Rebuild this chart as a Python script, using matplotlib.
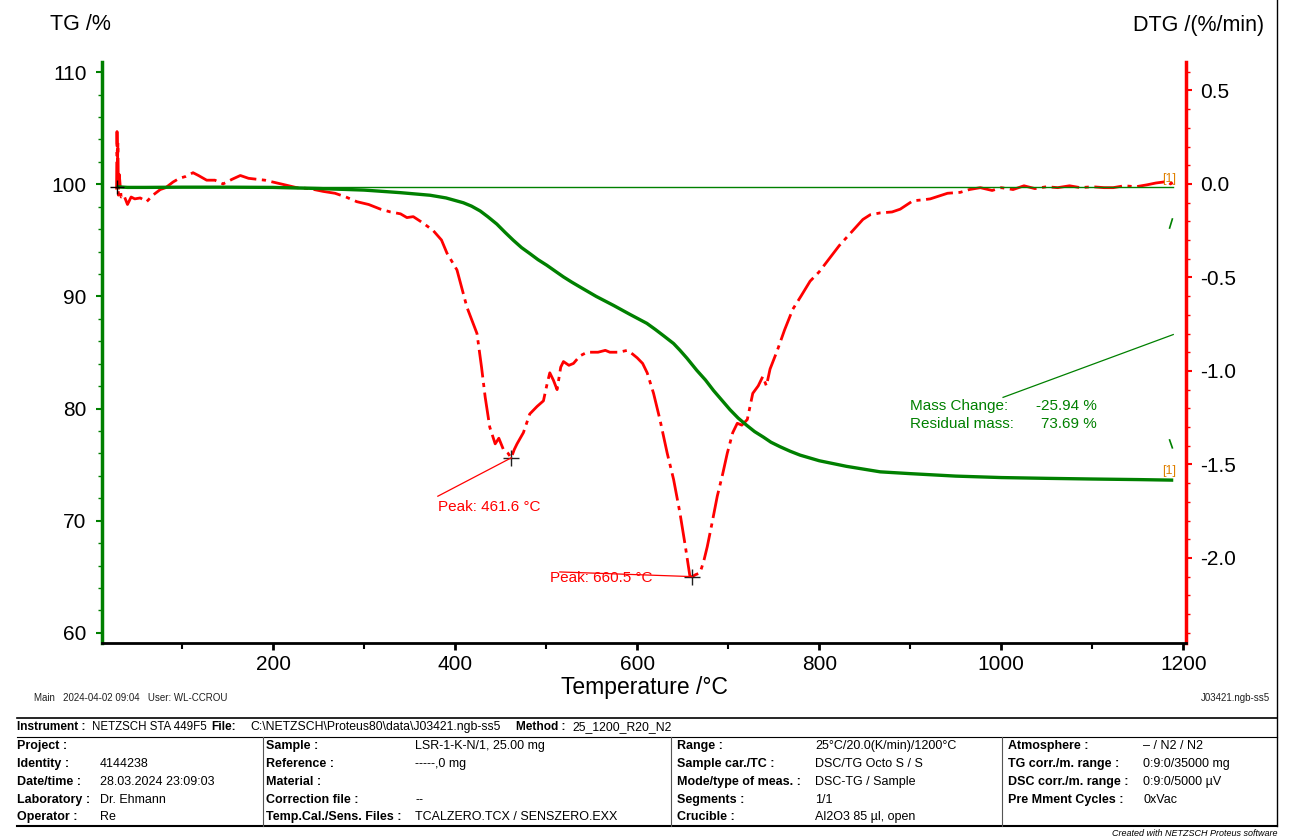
import matplotlib
matplotlib.use("Agg")
import matplotlib.pyplot as plt
from matplotlib.lines import Line2D
from matplotlib.ticker import MultipleLocator

plt.rcParams['font.family'] = ['Liberation Sans', 'DejaVu Sans']

# ---------------- data ----------------
tg_temp = [28, 40, 60, 100, 150, 200, 250, 300, 317.6, 340, 372.5, 390, 409, 418, 427.5,
           436, 445.8, 455, 464, 473, 482.4, 491, 500.7, 510, 519, 528, 537, 555, 574,
           592, 610.6, 620, 628.9, 640, 647, 654.6, 665.6, 675, 684, 693, 702, 711,
           720.5, 729, 738.8, 747, 757, 768, 779, 800, 830, 867, 900,
           950, 1000, 1050, 1100, 1150, 1189]
tg_mass = [99.78, 99.72, 99.72, 99.74, 99.74, 99.72, 99.62, 99.48, 99.38, 99.25, 99.02,
           98.78, 98.35, 98.05, 97.62, 97.1, 96.45, 95.7, 95.0, 94.35, 93.8, 93.28,
           92.78, 92.25, 91.74, 91.28, 90.85, 90.0, 89.2, 88.4, 87.6, 87.05, 86.5,
           85.8, 85.2, 84.5, 83.4, 82.55, 81.6, 80.75, 79.9, 79.15, 78.5, 77.95, 77.45,
           77.0, 76.6, 76.2, 75.85, 75.35, 74.85, 74.36, 74.2, 73.98, 73.85, 73.78,
           73.72, 73.67, 73.62]

dtg_temp = [28, 28.5, 29, 29.5, 30, 31, 33, 36, 40, 44, 48, 54, 61, 68, 76, 82, 90, 97,
            104, 112, 118, 127, 136, 145, 155, 164, 173, 182, 191, 200, 213, 226, 240,
            255, 268, 280, 292, 305, 318, 329, 340, 347, 354, 365, 376, 385, 391, 402,
            413, 420, 424, 429, 433, 438, 444, 448, 453, 458, 461.6, 465, 468, 475,
            482, 490, 497, 501, 504, 508, 512, 516, 519, 525, 530, 537, 545, 557, 565,
            570, 580, 589, 595, 600, 606, 611, 618, 625, 633, 640, 647, 653, 658,
            660.5, 664, 669, 673, 677, 682, 688, 694, 699, 705, 710, 715, 721, 727,
            733, 738, 742, 746, 754, 762, 771, 780, 790, 800, 811, 822, 835, 848, 856,
            867, 880, 889, 903, 914, 922, 941, 955, 965, 977, 990, 1000, 1013, 1025,
            1037, 1050, 1062, 1075, 1087, 1100, 1113, 1123, 1135, 1148, 1160, 1170,
            1178, 1182, 1186, 1189]
dtg_rate = [-0.03, 0.28, 0.10, 0.22, -0.06, 0.05, -0.07, -0.06, -0.11, -0.07, -0.08,
            -0.075, -0.095, -0.06, -0.03, -0.02, 0.01, 0.03, 0.04, 0.06, 0.045, 0.02,
            0.02, 0.0, 0.025, 0.045, 0.03, 0.025, 0.02, 0.01, -0.005, -0.02, -0.025,
            -0.04, -0.05, -0.07, -0.095, -0.11, -0.135, -0.15, -0.16, -0.18, -0.175,
            -0.21, -0.25, -0.30, -0.37, -0.46, -0.66, -0.75, -0.80, -0.98, -1.14,
            -1.30, -1.39, -1.36, -1.42, -1.44, -1.465, -1.42, -1.39, -1.33, -1.23,
            -1.19, -1.16, -1.07, -1.01, -1.05, -1.10, -0.98, -0.95, -0.97, -0.96,
            -0.92, -0.90, -0.90, -0.89, -0.90, -0.90, -0.89, -0.91, -0.93, -0.96,
            -1.01, -1.12, -1.26, -1.44, -1.58, -1.76, -1.94, -2.10, -2.10, -2.09,
            -2.08, -2.02, -1.94, -1.82, -1.67, -1.55, -1.44, -1.33, -1.28, -1.29,
            -1.26, -1.12, -1.08, -1.03, -1.08, -0.99, -0.89, -0.78, -0.67, -0.60,
            -0.52, -0.47, -0.40, -0.33, -0.26, -0.19, -0.165, -0.155, -0.15, -0.135,
            -0.09, -0.085, -0.08, -0.05, -0.045, -0.03, -0.02, -0.035, -0.02, -0.03,
            -0.01, -0.025, -0.015, -0.02, -0.01, -0.02, -0.015, -0.02, -0.02, -0.01,
            -0.015, -0.005, 0.005, 0.01, 0.015, 0.0, 0.01]

peak_temps = [461.6, 660.5]
peak_rates = [-1.465, -2.10]
peak_labels = ["Peak: 461.6 °C", "Peak: 660.5 °C"]
mass_change = -25.94
residual_mass = 73.69
ref_level = 99.72

x_ticks = [200, 400, 600, 800, 1000, 1200]
tg_ticks = [60, 70, 80, 90, 100, 110]
dtg_ticks = [0.5, 0.0, -0.5, -1.0, -1.5, -2.0]

# ---------------- figure ----------------
W, H = 1291, 839
fig = plt.figure(figsize=(W / 100, H / 100), dpi=100)


def fx(px):
    return px / W


def fy(py):
    return 1 - py / H


GREEN = '#008000'
RED = '#FF0000'

ax = fig.add_axes([fx(102), fy(643), fx(1186) - fx(102), fy(62) - fy(643)])
ax2 = ax.twinx()

ax.set_xlim(12, 1203)
ax.set_ylim(59.1, 110.9)
ax2.set_ylim(-2.455, 0.652)

ax2.set_zorder(1)
ax.set_zorder(2)
ax.patch.set_visible(False)

# TG curve
ax.plot(tg_temp, tg_mass, color=GREEN, lw=2.4, solid_capstyle='butt', solid_joinstyle='round')
ax.plot([tg_temp[0], tg_temp[-1]], [ref_level, ref_level], color=GREEN, lw=1.0)
ax.plot([tg_temp[0]], [ref_level], marker='+', color='black', ms=10, mew=1)

# DTG curve
ax2.plot(dtg_temp, dtg_rate, color=RED, lw=2.0, linestyle=(0, (10, 2, 1.5, 2)))
ax2.plot(peak_temps, peak_rates, linestyle='none', marker='+', color='#202020', ms=11, mew=1)

# peak annotations
ax2.plot([peak_temps[0], 381], [peak_rates[0], -1.67], color=RED, lw=0.9)
ax2.text(438, -1.73, peak_labels[0], color=RED, fontsize=11, ha='center', va='center')
ax2.plot([peak_temps[1], 515], [peak_rates[1], -2.075], color=RED, lw=0.9)
ax2.text(561, -2.11, peak_labels[1], color=RED, fontsize=11, ha='center', va='center')

# mass change annotation
ax.plot([1002, 1189], [81.0, 86.6], color=GREEN, lw=0.9)
ax.text(900, 80.2, "Mass Change:", color=GREEN, fontsize=11, ha='left', va='center')
ax.text(1105, 80.2, f"{mass_change:.2f} %", color=GREEN, fontsize=11, ha='right', va='center')
ax.text(900, 78.6, "Residual mass:", color=GREEN, fontsize=11, ha='left', va='center')
ax.text(1105, 78.6, f"{residual_mass:.2f} %", color=GREEN, fontsize=11, ha='right', va='center')
ax.plot([1185, 1188], [96.1, 96.9], color=GREEN, lw=1.2)
ax.plot([1185, 1188], [77.2, 76.5], color=GREEN, lw=1.2)
ax.text(1185, 100.5, "[1]", color='#E08000', fontsize=9, ha='center', va='center')
ax.text(1185, 74.4, "[1]", color='#E08000', fontsize=9, ha='center', va='center')

# spines
for a in (ax, ax2):
    a.spines['top'].set_visible(False)
ax.spines['right'].set_visible(False)
ax2.spines['left'].set_visible(False)
ax2.spines['bottom'].set_visible(False)
ax.spines['left'].set_color(GREEN)
ax.spines['left'].set_linewidth(2.5)
ax2.spines['right'].set_color(RED)
ax2.spines['right'].set_linewidth(2.5)
ax.spines['bottom'].set_color('black')
ax.spines['bottom'].set_linewidth(2.0)

# ticks
ax.set_xticks(x_ticks)
ax.xaxis.set_minor_locator(MultipleLocator(100))
ax.set_yticks(tg_ticks)
ax.yaxis.set_minor_locator(MultipleLocator(2))
ax2.set_yticks(dtg_ticks)
ax2.set_yticklabels([f"{v:.1f}" for v in dtg_ticks])
ax2.yaxis.set_minor_locator(MultipleLocator(0.1))

ax.tick_params(axis='x', which='major', direction='out', length=5, width=2, color='black',
               labelsize=15, pad=4)
ax.tick_params(axis='x', which='minor', direction='out', length=4, width=1.5, color='black')
ax.tick_params(axis='y', which='major', direction='out', length=4, width=1.5, color=GREEN,
               labelsize=15, pad=7)
ax.tick_params(axis='y', which='minor', direction='out', length=3, width=1, color=GREEN)
ax2.tick_params(axis='y', which='major', direction='out', length=4, width=1.5, color=RED,
                labelsize=15, pad=6)
ax2.tick_params(axis='y', which='minor', direction='out', length=3, width=1, color=RED)

ax.set_xlabel("Temperature /°C", fontsize=16.5, labelpad=1)

# axis titles
fig.text(fx(50), fy(25), "TG /%", fontsize=15.5, ha='left', va='center')
fig.text(fx(1264), fy(25), "DTG /(%/min)", fontsize=15.5, ha='right', va='center')

# footer line above table
fig.text(fx(34), fy(698), "Main   2024-04-02 09:04   User: WL-CCROU", fontsize=7, color='#202020',
         va='center')
fig.text(fx(1270), fy(698), "J03421.ngb-ss5", fontsize=7, color='#202020', ha='right', va='center')

# page border at right
fig.add_artist(Line2D([fx(1277), fx(1277)], [fy(0), fy(826)], color='black', lw=1.0))

# table lines
for yy, lw in ((718, 1.2), (737, 0.8), (826, 1.5)):
    fig.add_artist(Line2D([fx(17), fx(1277)], [fy(yy), fy(yy)], color='black', lw=lw))
for xx in (263, 671, 1002):
    fig.add_artist(Line2D([fx(xx), fx(xx)], [fy(737), fy(826)], color='#555555', lw=0.8))

TFS = 9
row1 = [(17, "Instrument :", True, 8.6), (92, "NETZSCH STA 449F5", False, 8.3),
        (211, "File:", True, 8.6),
        (250, "C:\\NETZSCH\\Proteus80\\data\\J03421.ngb-ss5", False, 8.8),
        (516, "Method :", True, 8.6), (572, "25_1200_R20_N2", False, 8.8)]
for xx, s, b, fs in row1:
    fig.text(fx(xx), fy(727), s, fontsize=fs, fontweight='bold' if b else 'normal', va='center')

rows_y = [746, 764, 782, 800, 817]
col_labels = [
    (17, ["Project :", "Identity :", "Date/time :", "Laboratory :", "Operator :"]),
    (266, ["Sample :", "Reference :", "Material :", "Correction file :", "Temp.Cal./Sens. Files :"]),
    (677, ["Range :", "Sample car./TC :", "Mode/type of meas. :", "Segments :", "Crucible :"]),
    (1008, ["Atmosphere :", "TG corr./m. range :", "DSC corr./m. range :", "Pre Mment Cycles :", ""]),
]
col_values = [
    (100, ["", "4144238", "28.03.2024 23:09:03", "Dr. Ehmann", "Re"]),
    (415, ["LSR-1-K-N/1, 25.00 mg", "-----,0 mg", "", "--", "TCALZERO.TCX / SENSZERO.EXX"]),
    (815, ["25°C/20.0(K/min)/1200°C", "DSC/TG Octo S / S", "DSC-TG / Sample", "1/1",
           "Al2O3 85 µl, open"]),
    (1143, ["– / N2 / N2", "0:9:0/35000 mg", "0:9:0/5000 µV", "0xVac", ""]),
]
for xx, labels in col_labels:
    for yy, s in zip(rows_y, labels):
        fig.text(fx(xx), fy(yy), s, fontsize=TFS, fontweight='bold', va='center')
for xx, vals in col_values:
    for yy, s in zip(rows_y, vals):
        fig.text(fx(xx), fy(yy), s, fontsize=TFS, va='center')

fig.text(fx(1277), fy(833), "Created with NETZSCH Proteus software", fontsize=6.5,
         style='italic', ha='right', va='center')

fig.savefig("out.png", dpi=100)
